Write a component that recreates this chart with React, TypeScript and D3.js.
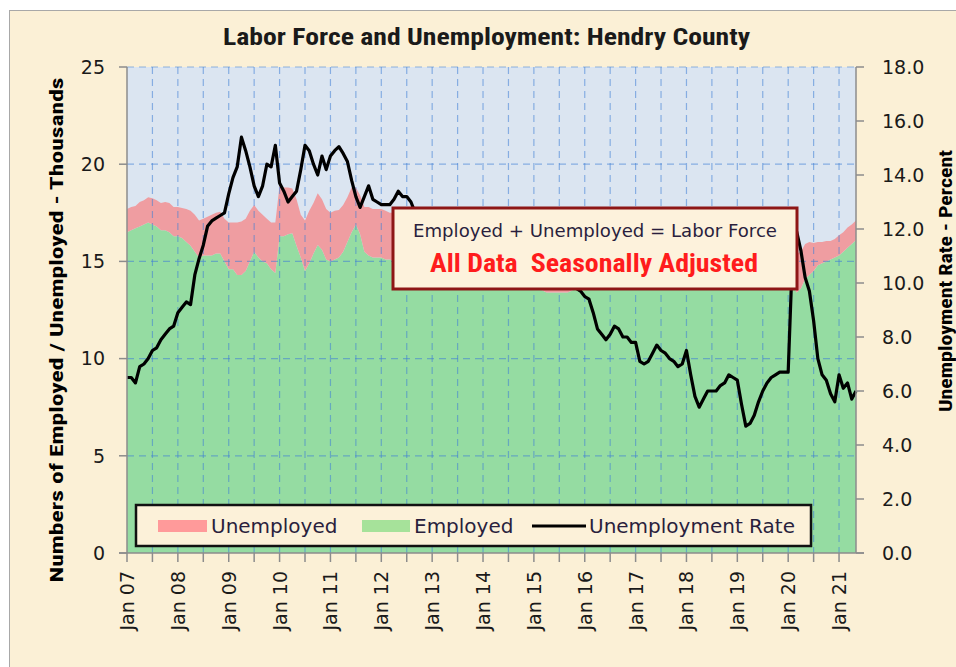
import React from "react";
import * as d3 from "d3";

// ---- Data (monthly, Jan 2007 .. May 2021) ----
const yearLabels = [
  "Jan 07", "Jan 08", "Jan 09", "Jan 10", "Jan 11", "Jan 12", "Jan 13", "Jan 14",
  "Jan 15", "Jan 16", "Jan 17", "Jan 18", "Jan 19", "Jan 20", "Jan 21",
];
const leftTickValues = [0, 5, 10, 15, 20, 25];
const rightTickValues = [0, 2, 4, 6, 8, 10, 12, 14, 16, 18];

// Employed, thousands
const employed = [
  16.5, 16.6, 16.7, 16.8, 16.9, 17.0, 16.9, 16.8, 16.6, 16.6, 16.5, 16.3,
  16.3, 16.2, 16.0, 15.8, 15.5, 15.2, 15.3, 15.3, 15.3, 15.4, 15.4, 15.0,
  14.6, 14.6, 14.3, 14.3, 14.5, 15.0, 15.5, 15.2, 15.0, 14.9, 14.6, 14.4,
  16.3, 16.3, 16.4, 16.45, 15.8, 15.2, 14.5, 14.9, 15.4, 15.85, 15.6, 15.1,
  15.0, 15.1, 15.2, 15.5, 16.0, 16.5, 16.9, 16.4, 15.5, 15.3, 15.2, 15.2,
  15.2, 15.1, 15.1, 15.0, 15.0, 15.0, 14.9, 14.9, 14.8, 14.8, 14.7, 14.7,
  14.6, 14.6, 14.5, 14.5, 14.4, 14.4, 14.3, 14.3, 14.2, 14.2, 14.1, 14.1,
  14.0, 14.0, 13.9, 13.9, 13.8, 13.8, 13.7, 13.7, 13.7, 13.7, 13.6, 13.6,
  13.6, 13.6, 13.5, 13.4, 13.4, 13.4, 13.4, 13.4, 13.4, 13.5, 13.6, 13.7,
  13.8, 13.8, 13.9, 13.9, 14.0, 14.0, 14.0, 14.1, 14.1, 14.1, 14.2, 14.2,
  14.2, 14.3, 14.3, 14.3, 14.3, 14.4, 14.4, 14.4, 14.4, 14.5, 14.5, 14.5,
  14.5, 14.6, 14.6, 14.6, 14.6, 14.6, 14.7, 14.7, 14.7, 14.7, 14.7, 14.7,
  14.7, 14.8, 14.8, 14.8, 14.8, 14.8, 14.8, 14.8, 14.8, 14.9, 14.9, 14.9,
  14.9, 13.8, 13.4, 13.6, 14.1, 14.3, 14.5, 14.8, 14.9, 15.0, 15.1, 15.2,
  15.3, 15.5, 15.7, 15.9, 16.1,
];

// Unemployed, thousands
const unemployed = [
  1.2, 1.2, 1.15, 1.25, 1.25, 1.3, 1.35, 1.35, 1.4, 1.45, 1.5, 1.5,
  1.5, 1.55, 1.7, 1.8, 1.9, 1.9, 1.9, 2.0, 2.1, 2.1, 2.15, 2.2,
  2.4, 2.4, 2.7, 2.75, 2.7, 2.6, 2.4, 2.4, 2.4, 2.3, 2.4, 2.6,
  2.6, 2.5, 2.4, 2.3, 2.4, 2.2, 2.6, 2.7, 2.6, 2.65, 2.6, 2.6,
  2.5, 2.5, 2.45, 2.4, 2.3, 2.3, 1.9, 2.0, 2.3, 2.5, 2.5, 2.5,
  2.5, 2.5, 2.4, 2.5, 2.5, 2.4, 2.4, 2.35, 2.3, 2.3, 2.25, 2.25,
  2.2, 2.2, 2.15, 2.1, 2.1, 2.05, 2.0, 2.0, 1.95, 1.95, 1.9, 1.9,
  1.85, 1.85, 1.8, 1.8, 1.75, 1.75, 1.7, 1.7, 1.7, 1.65, 1.65, 1.6,
  1.6, 1.6, 1.6, 1.55, 1.55, 1.55, 1.5, 1.5, 1.5, 1.5, 1.5, 1.45,
  1.45, 1.4, 1.35, 1.3, 1.25, 1.2, 1.25, 1.3, 1.3, 1.25, 1.25, 1.2,
  1.2, 1.1, 1.1, 1.1, 1.15, 1.2, 1.15, 1.15, 1.1, 1.1, 1.1, 1.1,
  1.15, 1.0, 0.95, 0.85, 0.9, 0.95, 0.95, 0.95, 1.0, 1.0, 1.05, 1.05,
  1.0, 0.85, 0.75, 0.8, 0.8, 0.9, 0.95, 1.0, 1.05, 1.05, 1.05, 1.05,
  1.05, 1.8, 2.0, 1.9, 1.8, 1.7, 1.45, 1.2, 1.1, 1.05, 0.95, 0.95,
  1.05, 1.0, 1.05, 1.0, 1.0,
];

// Unemployment rate, percent
const unemploymentRate = [
  6.5, 6.5, 6.3, 6.9, 7.0, 7.2, 7.5, 7.6, 7.9, 8.1, 8.3, 8.4,
  8.9, 9.1, 9.3, 9.2, 10.3, 10.9, 11.4, 12.1, 12.3, 12.4, 12.5, 12.6,
  13.3, 13.9, 14.3, 15.4, 14.9, 14.3, 13.6, 13.2, 13.6, 14.4, 14.3, 15.1,
  13.7, 13.4, 13.0, 13.2, 13.4, 14.2, 15.1, 14.9, 14.4, 14.0, 14.7, 14.2,
  14.7, 14.9, 15.05, 14.8, 14.5, 13.8, 13.2, 12.8, 13.2, 13.6, 13.1, 13.0,
  12.9, 12.9, 12.9, 13.1, 13.4, 13.2, 13.2, 13.0, 12.6, 12.5, 12.4, 12.5,
  12.3, 12.1, 12.0, 11.8, 11.9, 11.6, 11.5, 11.4, 11.3, 11.4, 11.2, 11.0,
  11.1, 10.9, 10.8, 10.9, 10.7, 10.6, 10.7, 10.5, 10.6, 10.4, 10.3, 10.4,
  10.2, 10.3, 10.1, 10.2, 10.0, 10.1, 10.0, 9.9, 10.0, 9.9, 9.8, 9.7,
  9.5, 9.4, 8.9, 8.3, 8.1, 7.9, 8.1, 8.4, 8.3, 8.0, 8.0, 7.8,
  7.8, 7.1, 7.0, 7.1, 7.4, 7.7, 7.5, 7.4, 7.2, 7.1, 6.9, 7.0,
  7.5, 6.6, 5.8, 5.4, 5.7, 6.0, 6.0, 6.0, 6.2, 6.3, 6.6, 6.5,
  6.4, 5.5, 4.7, 4.8, 5.1, 5.6, 6.0, 6.3, 6.5, 6.6, 6.7, 6.7,
  6.7, 11.0, 11.9, 11.2, 10.2, 9.7, 8.6, 7.2, 6.6, 6.4, 5.9, 5.6,
  6.6, 6.1, 6.3, 5.7, 6.0,
];

const legendLabels = ["Unemployed", "Employed", "Unemployment Rate"];

// ---- Layout ----
const W = 956;
const H = 667;
const PL = 127;
const PR = 856;
const PT = 67;
const PB = 553;

const SANS = "'DejaVu Sans', Verdana, sans-serif";
const NARROW = "'Liberation Sans Narrow', 'Roboto Condensed', Roboto, sans-serif";

export default function App() {
  const n = employed.length;
  const idx = d3.range(n);
  const x = d3.scaleLinear().domain([0, n - 1]).range([PL, PR]);
  const yL = d3.scaleLinear().domain([0, 25]).range([PB, PT]);
  const yR = d3.scaleLinear().domain([0, 18]).range([PB, PT]);

  const empPath = d3
    .area<number>()
    .x((i) => x(i))
    .y0(yL(0))
    .y1((i) => yL(employed[i]))(idx) as string;
  const unPath = d3
    .area<number>()
    .x((i) => x(i))
    .y0((i) => yL(employed[i]))
    .y1((i) => yL(employed[i] + unemployed[i]))(idx) as string;
  const ratePath = d3
    .line<number>()
    .x((i) => x(i))
    .y((i) => yR(unemploymentRate[i]))(idx) as string;

  const halfYears = d3.range(0, n, 6);
  const gridColor = "#3f7fd6";

  return (
    <div style={{ position: "absolute", left: 0, top: 0, width: W, height: H, background: "#ffffff" }}>
      <svg width={W} height={H} viewBox={`0 0 ${W} ${H}`} style={{ display: "block" }}>
        {/* outer chart frame */}
        <rect x={9.5} y={10.5} width={1000} height={700} fill="#fbf0d6" stroke="#a8a8a8" strokeWidth={1} />

        {/* title */}
        <text
          x={486.5}
          y={45}
          textAnchor="middle"
          fontFamily={NARROW}
          fontWeight="bold"
          fontSize={24}
          fill="#1a1a1a"
          textLength={527}
          lengthAdjust="spacingAndGlyphs"
        >
          Labor Force and Unemployment: Hendry County
        </text>

        {/* plot background */}
        <rect x={PL} y={PT} width={PR - PL} height={PB - PT} fill="#dbe5f1" />

        {/* areas */}
        <path d={empPath} fill="#95dca2" />
        <path d={unPath} fill="#ef9da1" />

        {/* gridlines */}
        <g stroke={gridColor} strokeOpacity={0.55} strokeWidth={1.2} strokeDasharray="7 5">
          {leftTickValues
            .filter((v) => v > 0)
            .map((v) => (
              <line key={"h" + v} x1={PL} x2={PR} y1={yL(v)} y2={yL(v)} />
            ))}
          {halfYears
            .filter((m) => m > 0)
            .map((m) => (
              <line key={"v" + m} x1={x(m)} x2={x(m)} y1={PT} y2={PB} />
            ))}
        </g>

        {/* unemployment rate line */}
        <path d={ratePath} fill="none" stroke="#000" strokeWidth={3.2} strokeLinejoin="round" />

        {/* axes */}
        <g stroke="#8c8c8c" strokeWidth={1.5}>
          <line x1={PL} x2={PL} y1={PT} y2={PB} />
          <line x1={PR} x2={PR} y1={PT} y2={PB} />
          <line x1={PL - 8} x2={PR + 8} y1={PB} y2={PB} />
          {leftTickValues.map((v) => (
            <line key={"lt" + v} x1={PL - 8} x2={PL} y1={yL(v)} y2={yL(v)} />
          ))}
          {rightTickValues.map((v) => (
            <line key={"rt" + v} x1={PR} x2={PR + 8} y1={yR(v)} y2={yR(v)} />
          ))}
          {halfYears.map((m) => (
            <line key={"bt" + m} x1={x(m)} x2={x(m)} y1={PB} y2={PB + 9} />
          ))}
        </g>

        {/* tick labels */}
        <g fontFamily={SANS} fontSize={19} fill="#1a1a1a">
          {leftTickValues.map((v) => (
            <text key={"ll" + v} x={105} y={yL(v)} dy="0.36em" textAnchor="end">
              {v}
            </text>
          ))}
          {rightTickValues.map((v) => (
            <text key={"rl" + v} x={882} y={yR(v)} dy="0.36em" textAnchor="start">
              {v.toFixed(1)}
            </text>
          ))}
          {yearLabels.map((lab, k) => (
            <text
              key={lab}
              transform={`translate(${x(k * 12) + 7},${571}) rotate(-90)`}
              textAnchor="end"
            >
              {lab}
            </text>
          ))}
        </g>

        {/* axis titles */}
        <text
          transform={`translate(63,330) rotate(-90)`}
          textAnchor="middle"
          fontFamily={NARROW}
          fontWeight="bold"
          fontSize={19}
          fill="#000"
          textLength={505}
          lengthAdjust="spacingAndGlyphs"
        >
          Numbers of Employed / Unemployed - Thousands
        </text>
        <text
          transform={`translate(952,281) rotate(-90)`}
          textAnchor="middle"
          fontFamily={NARROW}
          fontWeight="bold"
          fontSize={19}
          fill="#000"
          textLength={262}
          lengthAdjust="spacingAndGlyphs"
        >
          Unemployment Rate - Percent
        </text>

        {/* annotation box */}
        <rect x={393} y={208} width={404} height={81} fill="#fdf2dc" stroke="#8e1616" strokeWidth={3} />
        <text
          x={595}
          y={237}
          textAnchor="middle"
          fontFamily={SANS}
          fontSize={17.5}
          fill="#2a1f3d"
          textLength={364}
          lengthAdjust="spacingAndGlyphs"
        >
          Employed + Unemployed = Labor Force
        </text>
        <text
          x={594}
          y={272}
          textAnchor="middle"
          fontFamily={NARROW}
          fontWeight="bold"
          fontSize={25}
          fill="#ff1c1c"
          textLength={328}
          lengthAdjust="spacingAndGlyphs"
          style={{ whiteSpace: "pre" }}
        >
          {"All Data  Seasonally Adjusted"}
        </text>

        {/* legend */}
        <rect x={136} y={505} width={675} height={41} fill="#fcf1d9" stroke="#111" strokeWidth={2.5} />
        <rect x={158} y={520} width={49} height={12} fill="#ff9a9a" />
        <text x={211} y={533} fontFamily={SANS} fontSize={20} fill="#2a1f3d">
          {legendLabels[0]}
        </text>
        <rect x={362} y={520} width={48} height={12} fill="#a6e29a" />
        <text x={414} y={533} fontFamily={SANS} fontSize={20} fill="#2a1f3d">
          {legendLabels[1]}
        </text>
        <line x1={532} x2={586} y1={526} y2={526} stroke="#000" strokeWidth={3} />
        <text x={589} y={533} fontFamily={SANS} fontSize={20} fill="#2a1f3d">
          {legendLabels[2]}
        </text>
      </svg>
    </div>
  );
}
